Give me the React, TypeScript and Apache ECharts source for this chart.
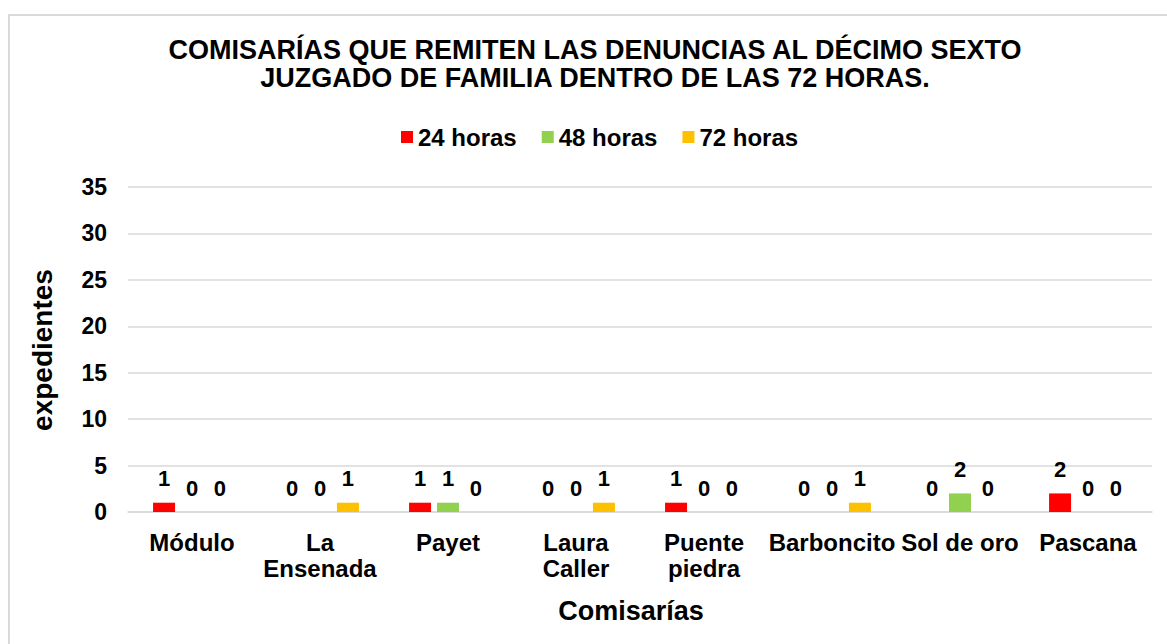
import React, { useEffect, useRef } from "react";
import * as echarts from "echarts";

const categories = ["Módulo", "La\nEnsenada", "Payet", "Laura\nCaller", "Puente\npiedra", "Barboncito", "Sol de oro", "Pascana"];
const seriesNames = ["24 horas", "48 horas", "72 horas"];
const values24 = [1, 0, 1, 0, 1, 0, 0, 2];
const values48 = [0, 0, 1, 0, 0, 0, 2, 0];
const values72 = [0, 1, 0, 1, 0, 1, 0, 0];
const colors = ["#ff0000", "#92d050", "#ffc000"];
const titleText = "COMISARÍAS QUE REMITEN LAS DENUNCIAS AL DÉCIMO SEXTO\nJUZGADO DE FAMILIA DENTRO DE LAS 72 HORAS.";
const yTitle = "expedientes";
const xTitle = "Comisarías";

const FONT = "'Liberation Sans', Arial, sans-serif";

export default function App() {
  const ref = useRef<HTMLDivElement>(null);
  useEffect(() => {
    document.body.style.margin = "0";
    const chart = echarts.init(ref.current!, null, { renderer: "svg" });
    const data = [values24, values48, values72];
    chart.setOption({
      animation: false,
      textStyle: { fontFamily: FONT },
      graphic: [
        {
          type: "rect",
          shape: { x: 9, y: 15, width: 1300, height: 800 },
          style: { fill: "none", stroke: "#d9d9d9", lineWidth: 2 },
          silent: true,
        },
        {
          type: "text",
          x: 595,
          y: 64,
          style: {
            text: titleText,
            font: `bold 27px ${FONT}`,
            fill: "#000",
            align: "center",
            verticalAlign: "middle",
            lineHeight: 28,
          },
        },
        {
          type: "text",
          x: 42,
          y: 350,
          rotation: Math.PI / 2,
          style: {
            text: yTitle,
            font: `bold 28px ${FONT}`,
            fill: "#000",
            align: "center",
            verticalAlign: "middle",
          },
        },
        {
          type: "text",
          x: 631,
          y: 611,
          style: {
            text: xTitle,
            font: `bold 27px ${FONT}`,
            fill: "#000",
            align: "center",
            verticalAlign: "middle",
          },
        },
      ],
      legend: {
        left: 396,
        top: 120,
        itemWidth: 12,
        itemHeight: 12,
        itemGap: 25,
        icon: "rect",
        data: seriesNames,
        textStyle: { fontSize: 24, fontWeight: "bold", color: "#000", fontFamily: FONT },
      },
      grid: { left: 128, right: 15, top: 187, bottom: 132, containLabel: false },
      xAxis: {
        type: "category",
        data: categories,
        axisTick: { show: false },
        axisLine: { lineStyle: { color: "#d9d9d9", width: 1.5 } },
        axisLabel: {
          interval: 0,
          fontSize: 24,
          fontWeight: "bold",
          color: "#000",
          margin: 17,
          lineHeight: 26,
          fontFamily: FONT,
        },
      },
      yAxis: {
        type: "value",
        min: 0,
        max: 35,
        interval: 5,
        axisLine: { show: false },
        axisTick: { show: false },
        splitLine: { lineStyle: { color: "#d9d9d9", width: 1.5 } },
        axisLabel: { fontSize: 23, fontWeight: "bold", color: "#000", margin: 21, fontFamily: FONT },
      },
      series: seriesNames.map((name, i) => ({
        name,
        type: "bar",
        data: data[i],
        barWidth: 22,
        barGap: "27%",
        itemStyle: { color: colors[i] },
        label: {
          show: true,
          position: "top",
          distance: 13,
          fontSize: 22,
          fontWeight: "bold",
          color: "#000",
          fontFamily: FONT,
        },
      })),
    });
    return () => chart.dispose();
  }, []);
  return <div ref={ref} style={{ width: 1167, height: 644 }} />;
}
